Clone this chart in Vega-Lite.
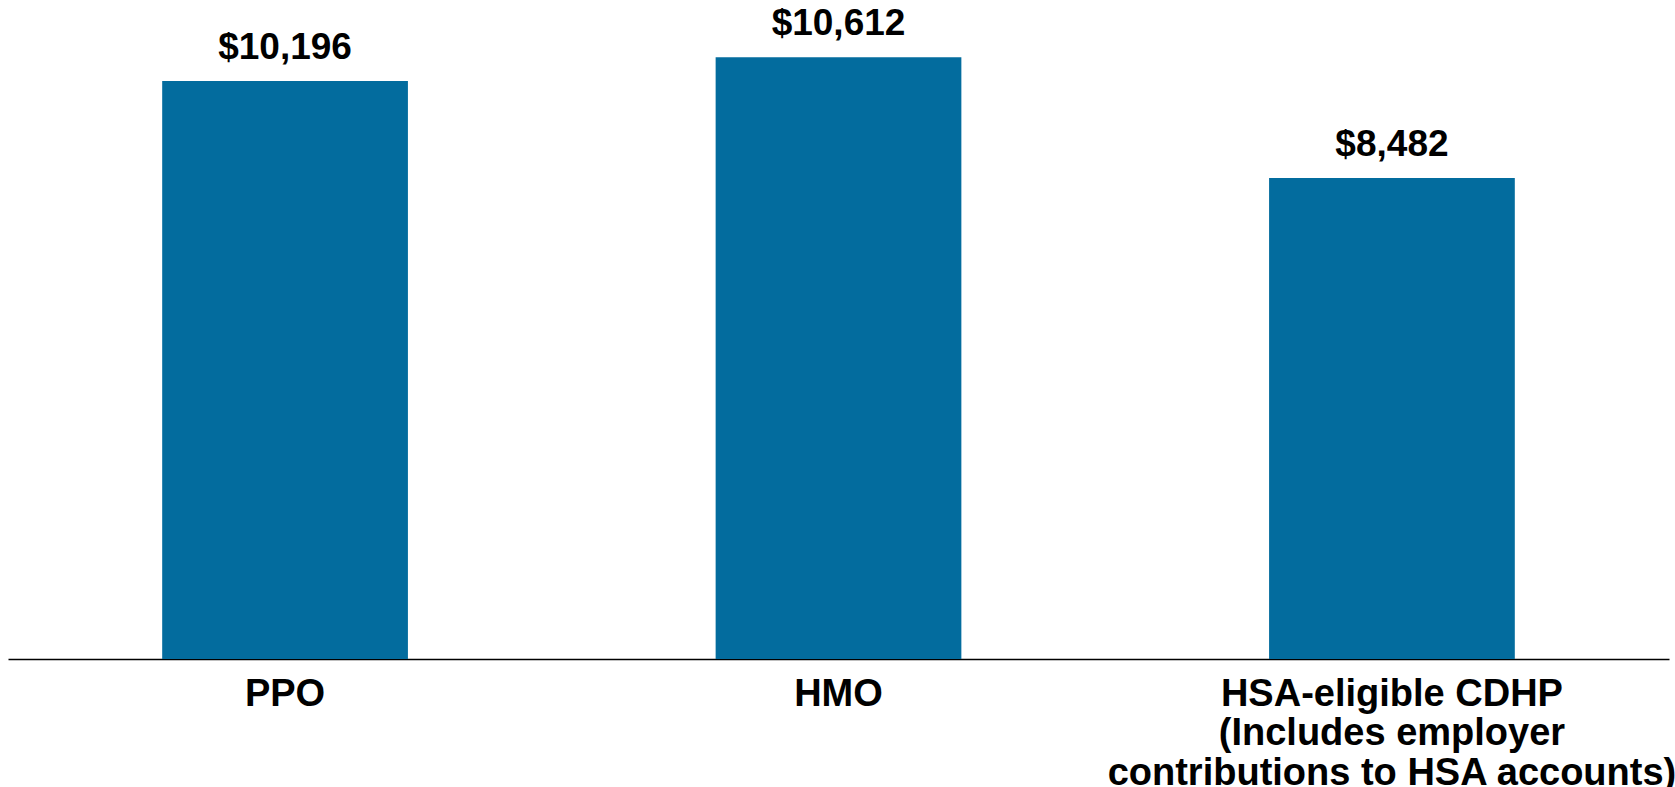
{
  "$schema": "https://vega.github.io/schema/vega-lite/v6.json",
  "autosize": "none",
  "width": 1661,
  "height": 659,
  "padding": {"left": 8, "top": 0, "right": 6, "bottom": 128},
  "background": "white",
  "config": {
    "view": {"stroke": null},
    "font": "Liberation Sans"
  },
  "data": {
    "values": [
      {"plan": "PPO", "cost": 10196},
      {"plan": "HMO", "cost": 10612},
      {"plan": "HSA-eligible CDHP\n(Includes employer\ncontributions to HSA accounts)", "cost": 8482}
    ]
  },
  "encoding": {
    "x": {
      "field": "plan",
      "type": "nominal",
      "sort": null,
      "scale": {"paddingInner": 0.556, "paddingOuter": 0.2786},
      "axis": {
        "title": null,
        "ticks": false,
        "domainColor": "#000000",
        "domainWidth": 1.4,
        "labelAngle": 0,
        "labelFont": "Liberation Sans",
        "labelFontSize": 38,
        "labelFontWeight": "bold",
        "labelColor": "#000000",
        "labelPadding": 16,
        "labelLineHeight": 39.5,
        "labelLimit": 1000,
        "labelOverlap": false,
        "labelExpr": "split(datum.label, '\\n')"
      }
    },
    "y": {
      "field": "cost",
      "type": "quantitative",
      "scale": {"domain": [0, 11623], "nice": false},
      "axis": null
    }
  },
  "layer": [
    {
      "mark": {"type": "bar", "color": "#036C9E"}
    },
    {
      "mark": {
        "type": "text",
        "baseline": "alphabetic",
        "dy": -22,
        "fontSize": 37,
        "fontWeight": "bold",
        "color": "#000000",
        "font": "Liberation Sans"
      },
      "encoding": {
        "text": {"field": "cost", "type": "quantitative", "format": "$,"}
      }
    }
  ]
}
